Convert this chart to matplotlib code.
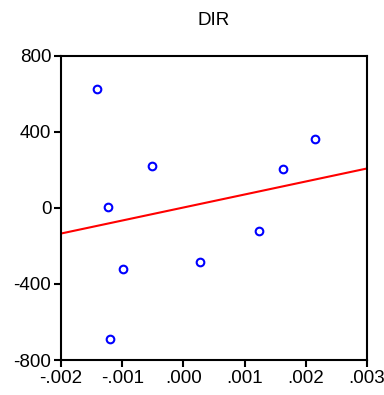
import matplotlib
matplotlib.use("Agg")
import matplotlib.pyplot as plt
from matplotlib.ticker import FuncFormatter

plt.rcParams['font.family'] = ['Liberation Sans', 'DejaVu Sans']
plt.rcParams['axes.unicode_minus'] = False

# scatter points
x_pts = [-0.00141, -0.00123, -0.00052, -0.000995, -0.00120, 0.00027, 0.00124, 0.00162, 0.00215]
y_pts = [625, 2, 221, -324, -687, -287, -121, 202, 360]

# fitted line end points
fit_x = [-0.002, 0.003]
fit_y = [-135, 207]

x_ticks = [-0.002, -0.001, 0.000, 0.001, 0.002, 0.003]
y_ticks = [-800, -400, 0, 400, 800]


def dot_fmt(v, pos):
    s = "%.3f" % v
    if s.startswith("-0"):
        s = "-" + s[2:]
    elif s.startswith("0"):
        s = s[1:]
    if s == "-.000":
        s = ".000"
    return s


fig = plt.figure(figsize=(3.84, 3.95), dpi=100)
ax = fig.add_axes([0.159, 0.0886, 0.7967, 0.7704])

ax.plot(fit_x, fit_y, color="red", lw=1.5)
ax.plot(x_pts, y_pts, linestyle="none", marker="o", markersize=5.5,
        markerfacecolor="none", markeredgecolor="blue", markeredgewidth=1.5)

ax.set_xlim(-0.002, 0.003)
ax.set_ylim(-800, 800)
ax.set_xticks(x_ticks)
ax.set_yticks(y_ticks)
ax.xaxis.set_major_formatter(FuncFormatter(dot_fmt))
ax.tick_params(direction="out", length=5, width=1.5, labelsize=13.5, colors="black", pad=2)
for sp in ax.spines.values():
    sp.set_linewidth(1.5)

ax.set_title("DIR", fontsize=13.5, pad=22)

fig.savefig("out.png", dpi=100)
